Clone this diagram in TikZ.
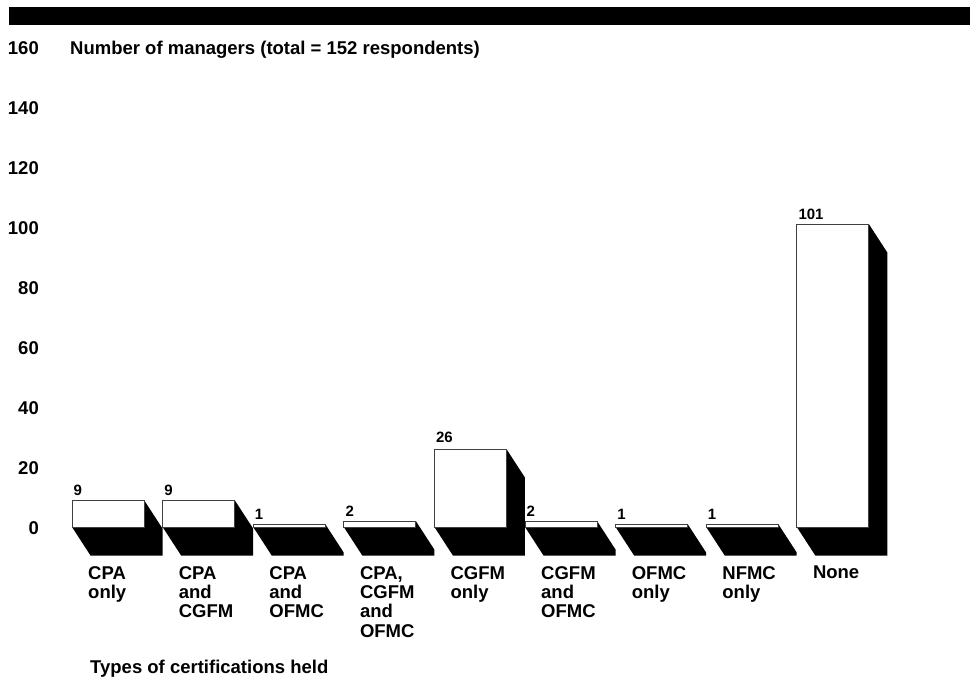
\documentclass[tikz,border=0pt]{standalone}
\usepackage{fontspec}
\setmainfont{Liberation Sans}
\usetikzlibrary{positioning}

\tikzset{
  axislabel/.style={font=\bfseries\fontsize{18.5}{19.3}\selectfont, inner sep=0pt},
  catlabel/.style={font=\bfseries\fontsize{18.5}{19.3}\selectfont, align=left, inner sep=0pt, anchor=north west},
  vallabel/.style={font=\bfseries\fontsize{15}{16}\selectfont, inner sep=0pt, anchor=south west},
  barface/.style={fill=white, draw=black!75, line width=0.8pt}
}

\begin{document}
\begin{tikzpicture}[x=1pt, y=-1pt]
\useasboundingbox (0,0) rectangle (970,677);

% heading band
\fill (9,7) rectangle (970,25);

% #1 = left edge, #2 = value
\def\certbar#1#2{
  \fill (#1, {527-3*#2}) -- ({#1+72}, {527-3*#2}) -- ({#1+90.5}, {555.5-3*#2})
        -- ({#1+90.5}, 555.5) -- ({#1+18.5}, 555.5) -- (#1, 527) -- cycle;
  \draw[barface] (#1, {527-3*#2}) rectangle ({#1+72}, 527);
}

% value axis
\node[axislabel, anchor=east] (y160) at (39, 48) {160};
\node[axislabel, anchor=east] (y140) at (39, 108) {140};
\node[axislabel, anchor=east] (y120) at (39, 168) {120};
\node[axislabel, anchor=east] (y100) at (39, 228) {100};
\node[axislabel, anchor=east] (y80) at (39, 288) {80};
\node[axislabel, anchor=east] (y60) at (39, 348) {60};
\node[axislabel, anchor=east] (y40) at (39, 408) {40};
\node[axislabel, anchor=east] (y20) at (39, 468) {20};
\node[axislabel, anchor=east] (y0) at (39, 528) {0};
\node[axislabel, anchor=base west] (ytitle) at ([xshift=31pt]y160.base east) {Number of managers (total = 152 respondents)};

% bars
\certbar{72}{9}
\certbar{162.6}{9}
\certbar{253.2}{1}
\certbar{343.8}{2}
\certbar{434.4}{26}
\certbar{525}{2}
\certbar{615.6}{1}
\certbar{706.2}{1}
\certbar{796.8}{101}

% values on top of the bars
\node[vallabel] (v1) at (73.5, 496) {9};
\node[vallabel] (v2) at (164.1, 496) {9};
\node[vallabel] (v3) at (254.7, 520) {1};
\node[vallabel] (v4) at (345.3, 517) {2};
\node[vallabel] (v5) at (435.9, 443) {26};
\node[vallabel] (v6) at (526.5, 517) {2};
\node[vallabel] (v7) at (617.1, 520) {1};
\node[vallabel] (v8) at (707.7, 520) {1};
\node[vallabel] (v9) at (798.3, 220) {101};

% categories
\node[catlabel] (c1) at (88, 566) {CPA\\only};
\node[catlabel] (c2) at (178.6, 566) {CPA\\and\\CGFM};
\node[catlabel] (c3) at (269.2, 566) {CPA\\and\\OFMC};
\node[catlabel] (c4) at (359.8, 566) {CPA,\\CGFM\\and\\OFMC};
\node[catlabel] (c5) at (450.4, 566) {CGFM\\only};
\node[catlabel] (c6) at (541, 566) {CGFM\\and\\OFMC};
\node[catlabel] (c7) at (631.6, 566) {OFMC\\only};
\node[catlabel] (c8) at (722.2, 566) {NFMC\\only};
\node[catlabel] (c9) at (812.8, 566) {None};
\node[axislabel, anchor=base west] (xtitle) at (90, 673) {Types of certifications held};

\end{tikzpicture}
\end{document}
